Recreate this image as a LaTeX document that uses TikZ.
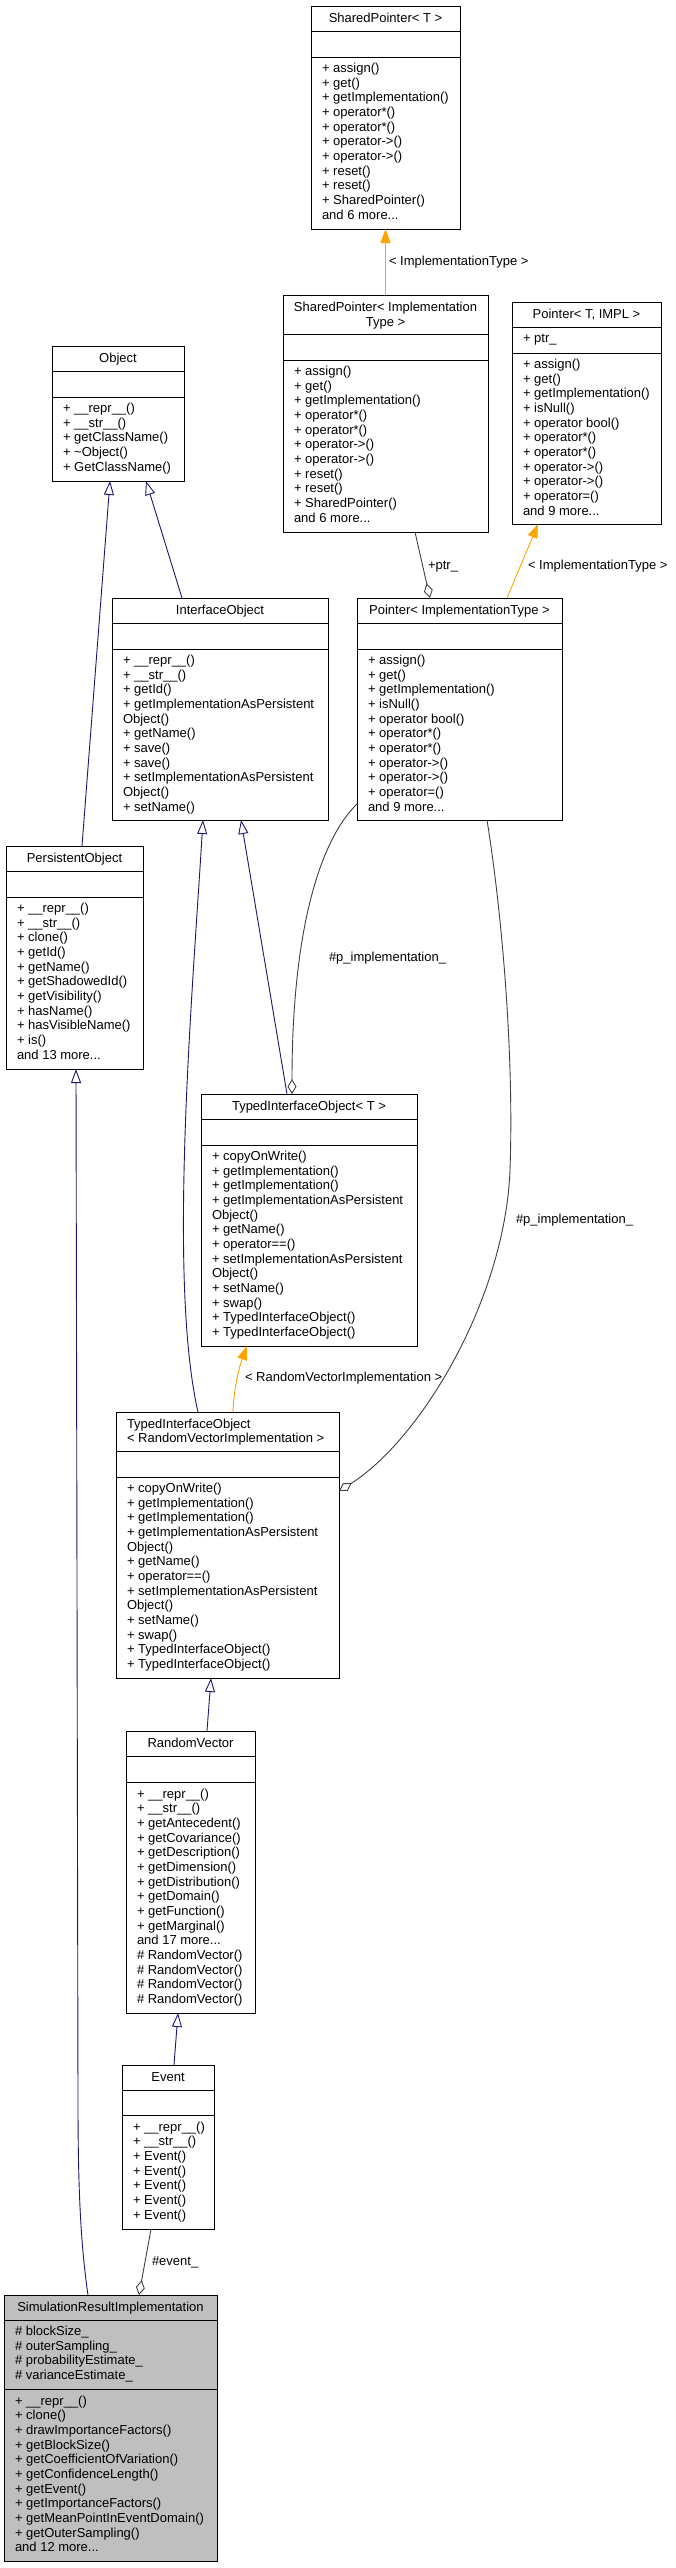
\documentclass[tikz,border=0pt]{standalone}
\usepackage{fontspec}
\setmainfont{Liberation Sans}
\usetikzlibrary{arrows.meta}
\definecolor{blueedge}{HTML}{191970}
\definecolor{orangeedge}{HTML}{FFA500}
\definecolor{grayedge}{HTML}{404040}
\definecolor{srigray}{HTML}{BFBFBF}
\tikzset{
  box/.style={draw=black, line width=1pt, inner sep=0pt, outer sep=0pt},
  boxline/.style={draw=black, line width=1pt},
  txt/.style={font=\fontsize{13}{14.67}\selectfont, inner sep=0pt, outer sep=0pt},
  members/.style={txt, align=left, anchor=north west},
  ttl/.style={txt, anchor=base},
  lbl/.style={txt, anchor=base west},
  inh/.style={draw=blueedge, line width=0.9pt, -{Triangle[length=14pt, width=10pt, fill=white]}},
  tmpl/.style={draw=orangeedge, line width=0.9pt, -{Triangle[length=14pt, width=10pt, fill=orangeedge]}},
  agg/.style={draw=grayedge, line width=0.9pt, -{Diamond[length=15pt, width=9pt, fill=white]}},
}
% fill, name, x1, y1, x2, y2, divider1, divider2
\newcommand\umlbox[8][white]{%
  \node[box, fill=#1, minimum width={#5-#3}, minimum height={#6-#4}, anchor=north west] (#2) at (#3,#4) {};
  \draw[boxline] (#3,#7) -- (#5,#7) (#3,#8) -- (#5,#8);}
% name, x, first baseline, text
\newcommand\mtext[4]{\node[members] (#1) at (#2,#3-10.27) {\strut #4};}
\begin{document}
\begin{tikzpicture}[x=1pt, y=-1pt]
\useasboundingbox (0,0) rectangle (676,2568);
\fill[white] (0,0) rectangle (676,2568);

% SharedPointer< T >
\umlbox{spT}{311}{6}{460}{229}{31}{57}
\node[ttl] (spT-t) at (385.5,22.5) {SharedPointer< T >};
\mtext{spT-m}{322}{72.5}{+ assign()\\+ get()\\+ getImplementation()\\+ operator*()\\+ operator*()\\+ operator->()\\+ operator->()\\+ reset()\\+ reset()\\+ SharedPointer()\\and 6 more...}

% SharedPointer< ImplementationType >
\umlbox{spI}{283}{295}{488}{532}{334}{360}
\node[txt, align=center, anchor=north] (spI-t) at (385.5,311.5-10.27) {\strut SharedPointer< Implementation\\Type >};
\mtext{spI-m}{294}{375.5}{+ assign()\\+ get()\\+ getImplementation()\\+ operator*()\\+ operator*()\\+ operator->()\\+ operator->()\\+ reset()\\+ reset()\\+ SharedPointer()\\and 6 more...}

% Pointer< T, IMPL >
\umlbox{pTI}{512}{302}{661}{524}{327}{353}
\node[ttl] (pTI-t) at (586.5,318.5) {Pointer< T, IMPL >};
\mtext{pTI-a}{523}{342.5}{+ ptr\_}
\mtext{pTI-m}{523}{368.5}{+ assign()\\+ get()\\+ getImplementation()\\+ isNull()\\+ operator bool()\\+ operator*()\\+ operator*()\\+ operator->()\\+ operator->()\\+ operator=()\\and 9 more...}

% Object
\umlbox{obj}{52}{346}{184}{481}{371}{397}
\node[ttl] (obj-t) at (118,362.5) {Object};
\mtext{obj-m}{63}{412.5}{+ \_\_repr\_\_()\\+ \_\_str\_\_()\\+ getClassName()\\+ \textasciitilde Object()\\+ GetClassName()}

% InterfaceObject
\umlbox{io}{112}{598}{328}{820}{623}{649}
\node[ttl] (io-t) at (220,614.5) {InterfaceObject};
\mtext{io-m}{123}{664.5}{+ \_\_repr\_\_()\\+ \_\_str\_\_()\\+ getId()\\+ getImplementationAsPersistent\\Object()\\+ getName()\\+ save()\\+ save()\\+ setImplementationAsPersistent\\Object()\\+ setName()}

% Pointer< ImplementationType >
\umlbox{pI}{357}{598}{562}{820}{623}{649}
\node[ttl] (pI-t) at (459.5,614.5) {Pointer< ImplementationType >};
\mtext{pI-m}{368}{664.5}{+ assign()\\+ get()\\+ getImplementation()\\+ isNull()\\+ operator bool()\\+ operator*()\\+ operator*()\\+ operator->()\\+ operator->()\\+ operator=()\\and 9 more...}

% PersistentObject
\umlbox{po}{6}{846}{143}{1069}{871}{897}
\node[ttl] (po-t) at (74.5,862.5) {PersistentObject};
\mtext{po-m}{17}{912.5}{+ \_\_repr\_\_()\\+ \_\_str\_\_()\\+ clone()\\+ getId()\\+ getName()\\+ getShadowedId()\\+ getVisibility()\\+ hasName()\\+ hasVisibleName()\\+ is()\\and 13 more...}

% TypedInterfaceObject< T >
\umlbox{tioT}{201}{1094}{417}{1346}{1119}{1145}
\node[ttl] (tioT-t) at (309,1110.5) {TypedInterfaceObject< T >};
\mtext{tioT-m}{212}{1160.5}{+ copyOnWrite()\\+ getImplementation()\\+ getImplementation()\\+ getImplementationAsPersistent\\Object()\\+ getName()\\+ operator==()\\+ setImplementationAsPersistent\\Object()\\+ setName()\\+ swap()\\+ TypedInterfaceObject()\\+ TypedInterfaceObject()}

% TypedInterfaceObject< RandomVectorImplementation >
\umlbox{tioR}{116}{1412}{339}{1678}{1451}{1477}
\mtext{tioR-t}{127}{1428}{TypedInterfaceObject\\< RandomVectorImplementation >}
\mtext{tioR-m}{127}{1492.5}{+ copyOnWrite()\\+ getImplementation()\\+ getImplementation()\\+ getImplementationAsPersistent\\Object()\\+ getName()\\+ operator==()\\+ setImplementationAsPersistent\\Object()\\+ setName()\\+ swap()\\+ TypedInterfaceObject()\\+ TypedInterfaceObject()}

% RandomVector
\umlbox{rv}{126}{1731}{255}{2013}{1756}{1782}
\node[ttl] (rv-t) at (190.5,1747.5) {RandomVector};
\mtext{rv-m}{137}{1798}{+ \_\_repr\_\_()\\+ \_\_str\_\_()\\+ getAntecedent()\\+ getCovariance()\\+ getDescription()\\+ getDimension()\\+ getDistribution()\\+ getDomain()\\+ getFunction()\\+ getMarginal()\\and 17 more...\\\# RandomVector()\\\# RandomVector()\\\# RandomVector()\\\# RandomVector()}

% Event
\umlbox{ev}{122}{2065}{214}{2229}{2090}{2115}
\node[ttl] (ev-t) at (168,2081.5) {Event};
\mtext{ev-m}{133}{2131}{+ \_\_repr\_\_()\\+ \_\_str\_\_()\\+ Event()\\+ Event()\\+ Event()\\+ Event()\\+ Event()}

% SimulationResultImplementation
\umlbox[srigray]{sri}{4}{2295}{217}{2561}{2320}{2389}
\node[ttl] (sri-t) at (110.5,2311.5) {SimulationResultImplementation};
\mtext{sri-a}{15}{2335.5}{\# blockSize\_\\\# outerSampling\_\\\# probabilityEstimate\_\\\# varianceEstimate\_}
\mtext{sri-m}{15}{2405}{+ \_\_repr\_\_()\\+ clone()\\+ drawImportanceFactors()\\+ getBlockSize()\\+ getCoefficientOfVariation()\\+ getConfidenceLength()\\+ getEvent()\\+ getImportanceFactors()\\+ getMeanPointInEventDomain()\\+ getOuterSampling()\\and 12 more...}

% connectors
\draw[tmpl] (spI.north) -- (spT.south);
\draw[agg] ([xshift=29.5pt]spI.south) -- ([xshift=-29.5pt]pI.north);
\draw[tmpl] ([xshift=47.5pt]pI.north) -- ([xshift=-48.5pt]pTI.south);
\draw[inh] ([xshift=7.5pt]po.north) -- ([xshift=-8pt]obj.south);
\draw[inh] ([xshift=-38pt]io.north) -- ([xshift=28pt]obj.south);
\draw[inh] ([xshift=-22pt]tioT.north) -- ([xshift=21pt]io.south);
\draw[inh] ([xshift=-29.5pt]tioR.north) .. controls (168,1280) and (192,1000) .. ([xshift=-17pt]io.south);
\draw[tmpl] ([xshift=5.5pt]tioR.north) .. controls (234,1385) and (240,1365) .. ([xshift=-62pt]tioT.south);
\draw[agg] ([yshift=16pt]pI.south west) .. controls (320,840) and (292,930) .. ([xshift=-17pt]tioT.north);
\draw[agg] ([xshift=27.5pt]pI.south) .. controls (503,920) and (514,1060) .. (510,1170) .. controls (505,1300) and (420,1440) .. ([yshift=54pt]tioR.east);
\draw[inh] ([xshift=16.5pt]rv.north) -- ([xshift=-16.5pt]tioR.south);
\draw[inh] ([xshift=6pt]ev.north) -- ([xshift=-12.5pt]rv.south);
\draw[agg] ([xshift=-17pt]ev.south) -- ([xshift=28.5pt]sri.north);
\draw[inh] ([xshift=-22.5pt]sri.north) .. controls (80,2240) and (78,2180) .. (78,2100) -- ([xshift=1.5pt]po.south);

% connector labels
\node[lbl] (l1) at (389,265.5) {< ImplementationType >};
\node[lbl] (l2) at (428,569.5) {+ptr\_};
\node[lbl] (l3) at (528,569.5) {< ImplementationType >};
\node[lbl] (l4) at (329,961.5) {\#p\_implementation\_};
\node[lbl] (l5) at (516,1223.5) {\#p\_implementation\_};
\node[lbl] (l6) at (245,1381.5) {< RandomVectorImplementation >};
\node[lbl] (l7) at (152,2265.5) {\#event\_};
\end{tikzpicture}
\end{document}
